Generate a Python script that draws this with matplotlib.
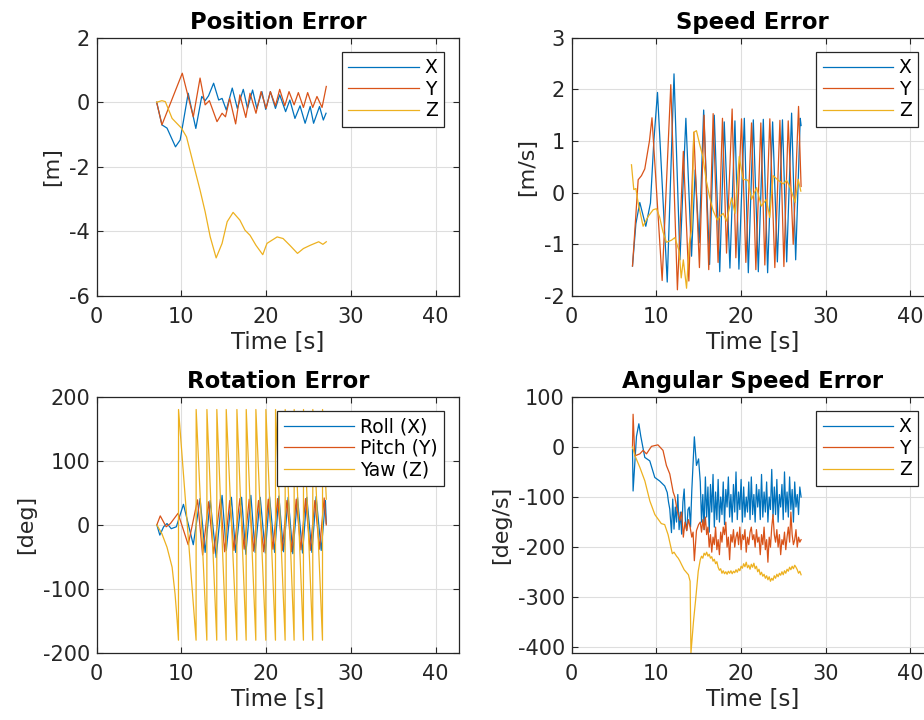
"""Tracking errors of a vehicle: position, speed, rotation and angular speed."""

import numpy as np
import matplotlib

matplotlib.use("Agg")
import matplotlib.pyplot as plt

plt.rcParams["font.family"] = ["DejaVu Sans"]
plt.rcParams["axes.unicode_minus"] = False

# MATLAB default line colours.
COLORS = ["#0072BD", "#D95319", "#EDB120"]

# ---------------------------------------------------------------- position [m]
pos_x_t = [7.08, 7.7, 8.3, 9.3, 9.85, 10.8, 11.7, 12.4, 12.8, 13.2, 13.8, 14.4, 14.8, 15.3, 16.0,
           16.6, 17.3, 17.8, 18.4, 18.9, 19.5, 19.95, 20.5, 21.1, 21.6, 22.3, 22.8, 23.4, 24.0,
           24.6, 25.2, 25.6, 26.3, 26.75, 27.07]
pos_x_v = [0.0, -0.7, -0.8, -1.38, -1.17, 0.28, -0.81, 0.18, 0.05, 0.2, 0.59, 0.07, 0.12, -0.24,
           0.44, -0.19, 0.4, -0.19, 0.38, -0.19, 0.33, -0.22, 0.33, -0.19, 0.23, -0.29, 0.07,
           -0.5, -0.11, -0.65, -0.13, -0.65, -0.13, -0.55, -0.34]
pos_y_t = [7.08, 7.7, 10.1, 11.4, 12.2, 12.8, 13.3, 14.2, 14.8, 15.2, 15.7, 16.4, 16.9, 17.6,
           18.1, 18.8, 19.4, 20.0, 20.5, 21.1, 21.6, 22.2, 22.7, 23.3, 23.8, 24.4, 24.9, 25.5,
           26.0, 26.6, 27.1]
pos_y_v = [0.0, -0.7, 0.9, -0.45, 0.75, -0.08, 0.05, -0.6, -0.34, -0.45, 0.12, -0.67, 0.23,
           -0.47, 0.28, -0.34, 0.33, -0.19, 0.33, -0.11, 0.4, -0.11, 0.33, -0.08, 0.3, -0.16,
           0.3, -0.16, 0.18, -0.16, 0.49]
pos_z_t = [7.08, 7.7, 8.1, 8.9, 10.0, 10.6, 11.4, 12.2, 12.8, 13.4, 14.1, 14.8, 15.4, 16.1, 16.9,
           17.5, 18.1, 18.8, 19.6, 20.1, 21.3, 22.0, 22.8, 23.7, 24.4, 25.2, 26.2, 26.7, 27.1]
pos_z_v = [0.0, 0.05, 0.02, -0.5, -0.8, -1.07, -1.9, -2.72, -3.39, -4.17, -4.82, -4.37, -3.7,
           -3.41, -3.65, -3.96, -4.12, -4.43, -4.72, -4.37, -4.17, -4.22, -4.43, -4.68, -4.53,
           -4.43, -4.32, -4.4, -4.32]

# ------------------------------------------------------------------ speed [m/s]
spd_x_t = [7.2, 7.6, 8.06, 8.77, 9.32, 9.72, 10.15, 11.3, 12.1, 12.8, 13.5, 14.17, 14.6, 15.07,
           15.6, 16.3, 16.85, 17.5, 18.03, 18.7, 19.29, 19.76, 20.4, 20.87, 21.46, 22.05, 22.64,
           23.15, 23.74, 24.3, 24.9, 25.4, 25.98, 26.46, 27.0, 27.1]
spd_x_v = [-1.42, -0.6, -0.19, -0.65, -0.2, 1.0, 1.94, -1.73, 2.30, -1.30, 1.44, -1.23, 0.44,
           -0.97, 1.6, -1.39, 1.5, -1.53, 1.37, -1.46, 1.39, -1.48, 1.44, -1.55, 1.41, -1.53, 1.42,
           -1.55, 1.37, -1.34, 1.41, -1.34, 1.54, -1.30, 1.44, 1.3]
spd_y_t = [7.2, 7.87, 8.26, 8.65, 9.2, 9.5, 10.7, 11.72, 12.5, 13.2, 13.85, 14.44, 15.1, 15.65,
           16.2, 16.72, 17.3, 17.82, 18.3, 18.96, 19.4, 20.07, 20.58, 21.25, 21.76, 22.35, 22.82,
           23.41, 24.0, 24.6, 25.07, 25.58, 26.17, 26.8, 27.1]
spd_y_v = [-1.42, 0.25, 0.33, 0.46, 1.0, 1.45, -1.70, 2.09, -1.88, 0.8, -1.71, 1.17, -1.45, 1.5,
           -1.49, 1.53, -1.35, 1.44, -1.17, 1.62, -1.26, 1.43, -1.35, 1.35, -1.49, 1.35, -1.40,
           1.43, -1.45, 1.40, -1.43, 1.39, -1.0, 1.67, 0.12]
spd_z_t = [7.08, 7.35, 7.6, 7.87, 8.45, 9.05, 9.64, 10.03, 10.4, 10.8, 11.2, 11.8, 12.2, 12.7,
           12.95, 13.2, 13.58, 13.9, 14.17, 14.44, 14.75, 15.15, 15.5, 15.9, 16.3, 16.7, 17.2,
           17.7, 17.9, 18.3, 18.9, 19.3, 19.8, 20.25, 20.85, 21.25, 21.85, 22.4, 23.0, 23.4, 23.8,
           24.4, 25.0, 25.4, 25.8, 26.4, 26.75, 27.07]
spd_z_v = [0.54, 0.06, 0.08, -0.2, -0.65, -0.46, -0.33, -0.31, -0.47, -0.76, -0.96, -0.92, -0.87,
           -1.13, -1.65, -1.3, -1.85, -0.99, -0.73, 1.17, 1.2, 0.92, 0.7, 0.24, -0.08, -0.34, -0.53,
           -0.43, -0.4, -0.55, -0.1, -0.4, 0.7, 0.26, 0.24, -0.13, 0.1, -0.26, -0.13, -0.48, 0.33,
           0.24, 0.17, 0.24, 0.1, -0.19, 0.26, 0.03]

# ------------------------------------------------------------- rotation [deg]
roll_t = [7.1, 7.45, 7.9, 8.3, 8.8, 9.4, 10.24, 11.4, 12.2, 12.8, 13.4, 14.1, 14.8, 15.3, 15.9,
          16.4, 17.1, 17.6, 18.2, 18.7, 19.3, 19.9, 20.4, 21.0, 21.5, 22.05, 22.6, 23.15, 23.7,
          24.3, 24.8, 25.4, 25.9, 26.5, 27.0, 27.1]
roll_v = [0, -16, -3, 2, -6, -3, 32, -31, 41, -43, 38, -51, 46, -40, 43, -43, 43, -46, 46, -43,
          43, -44, 44, -43, 45, -42, 43, -45, 43, -44, 43, -43, 44, -40, 38, 2]
pitch_t = [7.1, 7.5, 8.2, 8.7, 9.6, 10.8, 11.9, 12.5, 13.2, 13.8, 14.6, 15.1, 15.7, 16.2, 16.9,
           17.4, 18.0, 18.5, 19.1, 19.7, 20.25, 20.8, 21.35, 21.9, 22.45, 23.0, 23.55, 24.1, 24.65,
           25.2, 25.75, 26.3, 26.85, 27.1]
pitch_v = [0, 14, -3, 2, 18, -31, 39, -47, 36, -45, 40, -42, 38, -40, 41, -38, 40, -41, 38, -42,
           40, -38, 41, -40, 38, -42, 40, -39, 41, -40, 38, -38, 42, 0]
yaw_t = [7.1, 7.7, 8.3, 8.9, 9.25, 9.5, 9.65, 9.66, 11.73, 11.74, 13.0, 13.01, 14.17, 14.18,
         15.28, 15.29, 16.54, 16.55, 17.64, 17.65, 18.78, 18.79, 19.96, 19.97, 21.1, 21.11,
         22.24, 22.25, 23.3, 23.31, 24.4, 24.41, 25.5, 25.51, 26.65, 26.66, 27.1]
yaw_v = [0, -14, -35, -66, -108, -150, -180, 180, -180, 180, -180, 180, -180, 180, -180, 180,
         -180, 180, -180, 180, -180, 180, -180, 180, -180, 180, -180, 180, -180, 180, -180, 180,
         -180, 180, -180, 180, 40]

# -------------------------------------------------------- angular speed [deg/s]
# first part read point by point, the noisy tail is read on an even time grid
ang_x_t = [7.2, 7.27, 7.67, 7.95, 8.18, 8.65, 9.24, 9.83, 10.4, 11.0, 11.3, 11.45, 11.6, 11.8,
           11.95, 12.1, 12.25, 12.4, 12.55, 12.7, 12.85, 13.0, 13.15, 13.3, 13.45, 13.6, 13.75,
           13.9, 14.05, 14.2, 14.5, 14.75, 15.0]
ang_x_v = [-5, -88, 21, 46, 21, -21, -28, -61, -68, -78, -91, -110, -124, -171, -104, -164, -120,
           -150, -95, -165, -130, -174, -110, -84, -150, -167, -125, -120, -160, -87, 20, -37, -24]
ang_x_tail = [-70, -150, -95, -165, -60, -140, -80, -170, -75, -130, -55, -160, -90, -145, -65,
              -150, -100, -135, -70, -155, -85, -120, -60, -140, -95, -150, -75, -130, -50, -145,
              -90, -125, -65, -150, -80, -140, -100, -130, -70, -145, -60, -135, -95, -150, -75,
              -120, -85, -145, -55, -140, -90, -130, -70, -150, -100, -125, -45, -140, -80, -135,
              -65, -150, -95, -120, -75, -145, -50, -130, -90, -140, -60, -125, -85, -150, -70,
              -120, -95, -135, -80, -100]
ang_y_t = [7.2, 7.27, 7.47, 8.06, 8.45, 8.85, 9.44, 10.2, 10.8, 11.2, 11.6, 12.0, 12.2, 12.4,
           12.6, 12.8, 13.0, 13.2, 13.4, 13.6, 13.8, 14.0, 14.2, 14.35, 14.5, 14.75, 15.0]
ang_y_v = [0, 65, -18, -14, -7, -14, 1, 4, -7, -37, -54, -90, -100, -120, -135, -147, -130, -180,
           -150, -167, -145, -160, -180, -170, -227, -167, -155]
ang_y_tail = [-150, -170, -145, -165, -140, -175, -160, -200, -175, -210, -180, -195, -160, -205,
              -185, -215, -170, -190, -160, -175, -150, -200, -180, -225, -175, -190, -165, -200,
              -180, -170, -195, -160, -205, -175, -185, -165, -210, -180, -195, -170, -160, -185,
              -175, -200, -165, -190, -180, -215, -175, -195, -160, -205, -185, -230, -180, -200,
              -160, -135, -175, -190, -165, -200, -175, -215, -185, -195, -170, -205, -180, -160,
              -190, -130, -175, -195, -185, -165, -200, -180, -190, -185]
ang_z_t = [7.2, 7.5, 8.07, 8.66, 9.25, 9.84, 10.6, 11.0, 11.4, 11.9, 12.1, 12.4, 12.6, 12.8, 13.0,
           13.3, 13.55, 13.8, 14.0, 14.1, 14.4, 14.65, 14.96]
ang_z_v = [0, -18, -41, -68, -108, -135, -153, -155, -175, -213, -210, -218, -222, -228, -235,
           -245, -250, -255, -268, -411, -348, -305, -248]
ang_z_tail = [-225, -218, -222, -212, -216, -210, -218, -214, -222, -219, -228, -224, -233, -229,
              -240, -246, -243, -252, -247, -253, -249, -254, -248, -252, -247, -253, -248, -251,
              -245, -250, -243, -247, -238, -242, -233, -239, -230, -241, -236, -244, -234, -240,
              -232, -243, -238, -249, -244, -255, -250, -258, -254, -262, -257, -265, -259, -268,
              -262, -266, -257, -262, -254, -259, -252, -256, -249, -255, -247, -252, -244, -248,
              -240, -245, -238, -243, -236, -240, -245, -252, -248, -255]
TAIL_START, TAIL_END = 15.2, 27.1


def with_tail(t, v, tail):
    """Join the hand-read head of a series to its evenly sampled noisy tail."""
    tail_t = np.linspace(TAIL_START, TAIL_END, len(tail))
    return np.concatenate([t, tail_t]), np.concatenate([v, tail])


def style_axes(ax, title, ylabel, ylim, yticks, labels, anchor):
    """Give one panel the MATLAB look: box, inner ticks, light grid, legend."""
    ax.set_xlim(0, 42.8)
    ax.set_xticks([0, 10, 20, 30, 40])
    ax.set_ylim(*ylim)
    ax.set_yticks(yticks)
    ax.grid(True, color="#dedede", linewidth=0.8)
    ax.set_axisbelow(True)
    for spine in ax.spines.values():
        spine.set_color("#262626")
        spine.set_linewidth(0.9)
    ax.tick_params(direction="in", length=4, top=True, right=True, labelsize=15,
                   color="#262626", labelcolor="#262626")
    ax.tick_params(axis="x", pad=8)
    ax.tick_params(axis="y", pad=4.8)
    ax.set_title(title, fontsize=16.4, fontweight="bold", pad=6.5)
    ax.set_xlabel("Time [s]", fontsize=16.5, color="#262626", labelpad=3)
    ax.set_ylabel(ylabel, fontsize=16, color="#262626", labelpad=5)
    leg = ax.legend(labels, loc="upper right", bbox_to_anchor=anchor, borderaxespad=0,
                    fancybox=False, framealpha=1, edgecolor="#262626", fontsize=13.5,
                    handlelength=3.75, handletextpad=0.32, borderpad=0.34,
                    labelspacing=0.13)
    leg.get_frame().set_linewidth(0.9)


fig = plt.figure(figsize=(9.24, 7.2), dpi=100)
W, H = 924, 720
ax_pos = fig.add_axes([96.7 / W, 1 - 296 / H, 362.6 / W, 258.3 / H])
ax_spd = fig.add_axes([571.5 / W, 1 - 296 / H, 362.6 / W, 258.3 / H])
ax_rot = fig.add_axes([96.7 / W, 1 - 653 / H, 362.6 / W, 256.3 / H])
ax_ang = fig.add_axes([571.5 / W, 1 - 653 / H, 362.6 / W, 256.3 / H])

for (t, v), c in zip([(pos_x_t, pos_x_v), (pos_y_t, pos_y_v), (pos_z_t, pos_z_v)], COLORS):
    ax_pos.plot(t, v, color=c, linewidth=0.9)
style_axes(ax_pos, "Position Error", "[m]", (-6, 2), [-6, -4, -2, 0, 2],
           ["X", "Y", "Z"], (1 - 15.3 / 362.6, 1 - 14.4 / 258.3))

for (t, v), c in zip([(spd_x_t, spd_x_v), (spd_y_t, spd_y_v), (spd_z_t, spd_z_v)], COLORS):
    ax_spd.plot(t, v, color=c, linewidth=0.9)
style_axes(ax_spd, "Speed Error", "[m/s]", (-2, 3), [-2, -1, 0, 1, 2, 3],
           ["X", "Y", "Z"], (1 - 16 / 362.6, 1 - 14.4 / 258.3))

for (t, v), c in zip([(roll_t, roll_v), (pitch_t, pitch_v), (yaw_t, yaw_v)], COLORS):
    ax_rot.plot(t, v, color=c, linewidth=0.9)
style_axes(ax_rot, "Rotation Error", "[deg]", (-200, 200), [-200, -100, 0, 100, 200],
           ["Roll (X)", "Pitch (Y)", "Yaw (Z)"], (1 - 15.3 / 362.6, 1 - 14.3 / 256.3))

ang_series = [with_tail(ang_x_t, ang_x_v, ang_x_tail),
              with_tail(ang_y_t, ang_y_v, ang_y_tail),
              with_tail(ang_z_t, ang_z_v, ang_z_tail)]
for (t, v), c in zip(ang_series, COLORS):
    ax_ang.plot(t, v, color=c, linewidth=0.9)
style_axes(ax_ang, "Angular Speed Error", "[deg/s]", (-411, 100),
           [-400, -300, -200, -100, 0, 100], ["X", "Y", "Z"],
           (1 - 16 / 362.6, 1 - 14.3 / 256.3))

fig.savefig("out.png", dpi=100)
